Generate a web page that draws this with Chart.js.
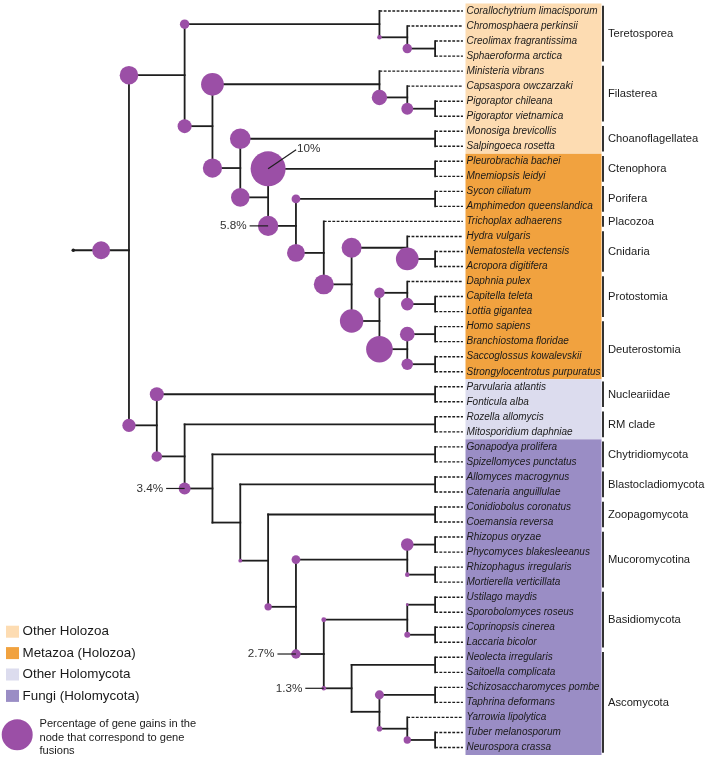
<!DOCTYPE html>
<html>
<head>
<meta charset="utf-8">
<script src="https://cdn.jsdelivr.net/npm/chart.js@4.4.0/dist/chart.umd.min.js"></script>
<style>
  html, body { margin: 0; padding: 0; background: #fff; }
  #wrap { width: 706px; height: 758px; }
</style>
</head>
<body>
<div id="wrap"><canvas id="tree" width="706" height="758"></canvas></div>
<script>
// === Leaves, top to bottom ===
const species = [
  "Corallochytrium limacisporum", "Chromosphaera perkinsii", "Creolimax fragrantissima", "Sphaeroforma arctica",
  "Ministeria vibrans", "Capsaspora owczarzaki", "Pigoraptor chileana", "Pigoraptor vietnamica",
  "Monosiga brevicollis", "Salpingoeca rosetta", "Pleurobrachia bachei", "Mnemiopsis leidyi",
  "Sycon ciliatum", "Amphimedon queenslandica", "Trichoplax adhaerens", "Hydra vulgaris",
  "Nematostella vectensis", "Acropora digitifera", "Daphnia pulex", "Capitella teleta",
  "Lottia gigantea", "Homo sapiens", "Branchiostoma floridae", "Saccoglossus kowalevskii",
  "Strongylocentrotus purpuratus", "Parvularia atlantis", "Fonticula alba", "Rozella allomycis",
  "Mitosporidium daphniae", "Gonapodya prolifera", "Spizellomyces punctatus", "Allomyces macrogynus",
  "Catenaria anguillulae", "Conidiobolus coronatus", "Coemansia reversa", "Rhizopus oryzae",
  "Phycomyces blakesleeanus", "Rhizophagus irregularis", "Mortierella verticillata", "Ustilago maydis",
  "Sporobolomyces roseus", "Coprinopsis cinerea", "Laccaria bicolor", "Neolecta irregularis",
  "Saitoella complicata", "Schizosaccharomyces pombe", "Taphrina deformans", "Yarrowia lipolytica",
  "Tuber melanosporum", "Neurospora crassa"
];

// === Clades (bracket on the right) ===
const cladeNames = ["Teretosporea", "Filasterea", "Choanoflagellatea", "Ctenophora", "Porifera", "Placozoa",
  "Cnidaria", "Protostomia", "Deuterostomia", "Nucleariidae", "RM clade", "Chytridiomycota",
  "Blastocladiomycota", "Zoopagomycota", "Mucoromycotina", "Basidiomycota", "Ascomycota"];
const cladeFirst = [0, 4, 8, 10, 12, 14, 15, 18, 21, 25, 27, 29, 31, 33, 35, 39, 43];
const cladeLast  = [3, 7, 9, 11, 13, 14, 17, 20, 24, 26, 28, 30, 32, 34, 38, 42, 49];

// === Coloured bands behind the names ===
const bandNames = ["Other Holozoa", "Metazoa (Holozoa)", "Other Holomycota", "Fungi (Holomycota)"];
const bandFirst = [0, 10, 25, 29];
const bandLast  = [9, 24, 28, 49];
const bandColors = ["#fddcb2", "#f1a23f", "#dcdcee", "#9a8dc5"];

// === Internal nodes: depth of the vertical bar, children (number = leaf index), % gene gains that are fusions ===
const nodeIds = ["root", "holozoa", "teret", "t2", "t3", "h2", "filas", "f2", "f3", "choanozoa",
  "choano", "metazoa", "cteno", "m2", "porif", "m3", "m4", "cnid", "c2", "bilat",
  "proto", "p2", "deut", "d1", "d2", "holomycota", "nuc", "hm2", "rm", "fungi",
  "chytrid", "fu2", "blasto", "fu3", "zoop", "fu4", "muco", "mu1", "mu2", "dikarya",
  "basid", "b1", "b2", "asco", "a1", "a2", "a2a", "a2b", "a2b2"];
const nodeDepth = [2, 4, 11, 12, 13, 5, 11, 12, 13, 6,
  13, 7, 13, 8, 13, 9, 10, 12, 13, 11,
  12, 13, 12, 13, 13, 3, 13, 4, 13, 5,
  13, 6, 13, 7, 13, 8, 12, 13, 13, 9,
  12, 13, 13, 10, 13, 11, 13, 12, 13];
const nodeKids = [
  ["holozoa", "holomycota"], ["teret", "h2"], [0, "t2"], [1, "t3"], [2, 3],
  ["filas", "choanozoa"], [4, "f2"], [5, "f3"], [6, 7], ["choano", "metazoa"],
  [8, 9], ["cteno", "m2"], [10, 11], ["porif", "m3"], [12, 13],
  [14, "m4"], ["cnid", "bilat"], [15, "c2"], [16, 17], ["proto", "deut"],
  [18, "p2"], [19, 20], ["d1", "d2"], [21, 22], [23, 24],
  ["nuc", "hm2"], [25, 26], ["rm", "fungi"], [27, 28], ["chytrid", "fu2"],
  [29, 30], ["blasto", "fu3"], [31, 32], ["zoop", "fu4"], [33, 34],
  ["muco", "dikarya"], ["mu1", "mu2"], [35, 36], [37, 38], ["basid", "asco"],
  ["b1", "b2"], [39, 40], [41, 42], ["a1", "a2"], [43, 44],
  ["a2a", "a2b"], [45, 46], [47, "a2b2"], [48, 49]
];
const nodeFusion = [5.1, 5.3, 2.7, 1.3, 2.7, 4.0, 6.5, 4.4, 3.4, 5.5,
  5.9, 5.3, 10, 5.8, 2.5, 5.1, 5.7, 5.7, 6.5, 6.7,
  3.0, 3.6, 7.6, 4.2, 3.3, 3.8, 4.0, 3.0, null, 3.4,
  null, null, null, 1.1, null, 2.1, 2.5, 3.6, 1.3, 2.7,
  1.4, 0.8, 1.7, 1.3, null, null, 2.6, 1.6, 2.1];
const labelledNodes = ["cteno", "m2", "fungi", "dikarya", "asco"];
const leafDepth = 14;

const TREE = "#1e1e1e";
const DOT = "#9b4fa6";
const FONT = "'Liberation Sans', Arial, sans-serif";
const pctToRadius = p => 1.75 * p;

// === Tree geometry ===
const nodeIndex = {};
nodeIds.forEach((id, i) => nodeIndex[id] = i);
const parentDepth = {};
nodeKids.forEach((kids, i) => kids.forEach(k => { if (typeof k === "string") parentDepth[k] = nodeDepth[i]; }));

function yOf(k) {
  if (typeof k === "number") return k;
  const kids = nodeKids[nodeIndex[k]];
  return (yOf(kids[0]) + yOf(kids[kids.length - 1])) / 2;
}

const datasets = [];
function branch(x1, y1, x2, y2, dashed) {
  datasets.push({
    type: "scatter",
    showLine: true,
    data: [{ x: x1, y: y1 }, { x: x2, y: y2 }],
    borderColor: TREE,
    borderWidth: dashed ? 1.4 : 1.8,
    borderDash: dashed ? [2.8, 1.5] : [],
    borderCapStyle: dashed ? "butt" : "square",
    pointRadius: 0,
    order: 2
  });
}

nodeIds.forEach((id, i) => {
  const kids = nodeKids[i];
  const d = nodeDepth[i];
  branch(d, yOf(kids[0]), d, yOf(kids[kids.length - 1]), false);
  kids.forEach(k => {
    if (typeof k === "number") branch(d, k, leafDepth, k, true);
    else branch(d, yOf(k), nodeDepth[nodeIndex[k]], yOf(k), false);
  });
});
const rootY = yOf("root");
branch(0, rootY, nodeDepth[0], rootY, false);

const bubbles = [];
nodeIds.forEach((id, i) => {
  if (nodeFusion[i] == null) return;
  const x = id === "root" ? nodeDepth[0] / 2 : parentDepth[id];
  bubbles.push({ x: x, y: yOf(id), r: pctToRadius(nodeFusion[i]), id: id });
});
datasets.push({ type: "bubble", data: bubbles, backgroundColor: DOT, borderWidth: 0, order: 0 });
datasets.push({ type: "scatter", data: [{ x: 0, y: rootY }], pointRadius: 1.8, backgroundColor: TREE, borderWidth: 0, order: 1 });

// === Bands, names, brackets, percentages and legend ===
const decor = {
  id: "decor",
  beforeDatasetsDraw(chart) {
    const { ctx, scales: { y } } = chart;
    bandNames.forEach((b, i) => {
      const top = y.getPixelForValue(bandFirst[i] - 0.5);
      const bot = y.getPixelForValue(bandLast[i] + 0.5);
      ctx.fillStyle = bandColors[i];
      ctx.fillRect(465.5, top, 136, bot - top);
    });
  },
  afterDatasetsDraw(chart) {
    const { ctx, scales: { x, y } } = chart;
    ctx.save();
    ctx.textBaseline = "middle";
    ctx.fillStyle = "#1a1a1a";
    ctx.font = "italic 10px " + FONT;
    species.forEach((s, i) => ctx.fillText(s, 466.5, y.getPixelForValue(i)));

    ctx.strokeStyle = "#333";
    ctx.lineWidth = 2;
    ctx.font = "11.2px " + FONT;
    cladeNames.forEach((c, i) => {
      const top = y.getPixelForValue(cladeFirst[i] - 0.5) + 2.2;
      const bot = y.getPixelForValue(cladeLast[i] + 0.5) - 2.2;
      ctx.beginPath();
      ctx.moveTo(603, top);
      ctx.lineTo(603, bot);
      ctx.stroke();
      ctx.fillText(c, 608, (top + bot) / 2 + 0.5);
    });

    ctx.font = "11.7px " + FONT;
    ctx.lineWidth = 1.2;
    ctx.strokeStyle = TREE;
    ctx.fillStyle = "#333";
    labelledNodes.forEach(id => {
      const b = bubbles.find(p => p.id === id);
      const cx = x.getPixelForValue(b.x), cy = y.getPixelForValue(b.y);
      const txt = nodeFusion[nodeIndex[id]] + "%";
      ctx.beginPath();
      if (id === "cteno") {
        ctx.moveTo(cx, cy);
        ctx.lineTo(cx + 28, cy - 19);
        ctx.stroke();
        ctx.textAlign = "left";
        ctx.fillText(txt, cx + 29, cy - 20.5);
      } else {
        ctx.moveTo(cx - 18.5, cy);
        ctx.lineTo(cx, cy);
        ctx.stroke();
        ctx.textAlign = "right";
        ctx.fillText(txt, cx - 21.5, cy);
      }
    });

    // legend
    ctx.textAlign = "left";
    ctx.font = "13.4px " + FONT;
    bandNames.forEach((b, i) => {
      const ly = 631.7 + i * 21.4;
      ctx.fillStyle = bandColors[i];
      ctx.fillRect(6, ly - 6, 13, 12);
      ctx.fillStyle = "#1a1a1a";
      ctx.fillText(b, 22.5, ly);
    });
    ctx.fillStyle = DOT;
    ctx.beginPath();
    ctx.arc(17.2, 734.7, 15.5, 0, Math.PI * 2);
    ctx.fill();
    ctx.fillStyle = "#1a1a1a";
    ctx.font = "11.1px " + FONT;
    ["Percentage of gene gains in the", "node that correspond to gene", "fusions"]
      .forEach((t, i) => ctx.fillText(t, 39.5, 723.7 + i * 13.8));
    ctx.restore();
  }
};

new Chart(document.getElementById("tree"), {
  type: "scatter",
  data: { datasets },
  options: {
    responsive: false,
    animation: false,
    layout: { padding: 0, autoPadding: false },
    plugins: { legend: { display: false }, tooltip: { enabled: false } },
    scales: {
      x: { type: "linear", display: false, min: -2.634, max: 22.734 },
      y: { type: "linear", display: false, reverse: true, min: -0.732, max: 49.70 }
    }
  },
  plugins: [decor]
});
</script>
</body>
</html>
